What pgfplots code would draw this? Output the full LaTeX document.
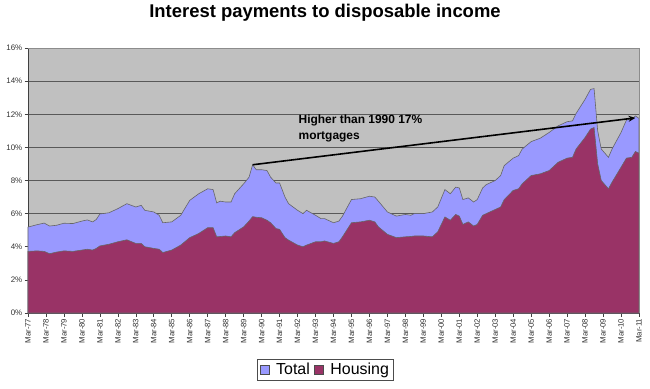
\documentclass[border=0pt]{standalone}
\usepackage{fontspec}
\setmainfont{Liberation Sans}
\usepackage{pgfplots}
\pgfplotsset{compat=1.18}
\usetikzlibrary{arrows.meta}
\definecolor{totalc}{HTML}{9999FF}
\definecolor{housec}{HTML}{993366}
\definecolor{bgc}{HTML}{C0C0C0}
\begin{document}
\begin{tikzpicture}
\begin{axis}[
  width=611bp, height=265bp, scale only axis,
  xmin=1977, xmax=2011, ymin=0, ymax=16,
  axis background/.style={fill=bgc},
  axis lines*=left,
  axis line style={black!75, line width=0.8pt},
  xtick={1977,...,2011},
  xticklabels={Mar-77,Mar-78,Mar-79,Mar-80,Mar-81,Mar-82,Mar-83,Mar-84,Mar-85,Mar-86,Mar-87,Mar-88,Mar-89,Mar-90,Mar-91,Mar-92,Mar-93,Mar-94,Mar-95,Mar-96,Mar-97,Mar-98,Mar-99,Mar-00,Mar-01,Mar-02,Mar-03,Mar-04,Mar-05,Mar-06,Mar-07,Mar-08,Mar-09,Mar-10,Mar-11},
  xticklabel style={rotate=90, anchor=east, font=\fontsize{7.8}{8}\selectfont, text=black!80, inner sep=2bp},
  ytick={0,2,...,16},
  yticklabel={\pgfmathprintnumber{\tick}\%},
  yticklabel style={font=\fontsize{8}{9}\selectfont, text=black!80, inner sep=2bp},
  /pgf/number format/assume math mode=true,
  tick align=outside,
  major tick length=3.5bp,
  tick style={black!75, line width=0.6pt},
  ymajorgrids,
  grid style={black!65, line width=0.9pt},
  legend style={at={(0.4865,-0.214)}, anchor=center, legend columns=2, draw=black!70,
    font=\fontsize{16}{18}\selectfont, inner xsep=2bp, inner ysep=1.5bp,
    /tikz/every even column/.append style={column sep=2bp},
    /tikz/every odd column/.append style={column sep=5bp}},
  legend image code/.code={\draw[#1, draw=black!70, line width=0.6pt] (0bp,-4.5bp) rectangle (9bp,4.5bp);},
  clip=false,
]
\addplot[fill=totalc, draw=black!60, line width=0.6pt] table {
x y
1977.0 5.19
1977.5 5.33
1977.9 5.43
1978.2 5.25
1978.6 5.30
1979.0 5.42
1979.5 5.40
1980.0 5.55
1980.3 5.62
1980.6 5.50
1980.8 5.65
1981.0 5.98
1981.5 6.05
1982.0 6.30
1982.5 6.60
1983.0 6.40
1983.3 6.50
1983.5 6.20
1984.0 6.10
1984.3 5.90
1984.5 5.45
1985.0 5.50
1985.5 5.90
1986.0 6.80
1986.5 7.20
1987.0 7.50
1987.3 7.45
1987.5 6.65
1987.7 6.75
1988.0 6.70
1988.3 6.70
1988.5 7.20
1989.0 7.80
1989.3 8.20
1989.5 8.95
1989.7 8.65
1990.0 8.65
1990.3 8.60
1990.5 8.20
1990.8 7.85
1991.0 7.85
1991.3 7.00
1991.5 6.60
1992.0 6.20
1992.3 6.00
1992.5 6.20
1993.0 5.90
1993.3 5.70
1993.5 5.70
1994.0 5.45
1994.3 5.55
1994.5 5.85
1995.0 6.85
1995.5 6.90
1996.0 7.05
1996.3 7.00
1996.5 6.75
1997.0 6.10
1997.5 5.85
1998.0 5.95
1998.3 5.90
1998.5 6.00
1999.0 6.00
1999.5 6.10
1999.8 6.40
2000.2 7.45
2000.5 7.20
2000.8 7.60
2001.0 7.55
2001.2 6.85
2001.5 6.95
2001.8 6.70
2002.0 6.85
2002.3 7.55
2002.5 7.75
2003.0 8.00
2003.3 8.30
2003.5 8.90
2004.0 9.35
2004.3 9.50
2004.5 9.90
2005.0 10.35
2005.5 10.55
2006.0 10.90
2006.5 11.30
2007.0 11.55
2007.3 11.60
2007.5 12.05
2008.0 12.90
2008.3 13.50
2008.5 13.55
2008.7 11.00
2008.9 9.90
2009.3 9.40
2009.5 9.90
2010.0 10.90
2010.3 11.65
2010.6 11.70
2010.8 11.90
2011.0 11.75
} \closedcycle;
\addlegendentry{Total}
\addplot[fill=housec, draw=black!60, line width=0.6pt] table {
x y
1977.0 3.72
1977.5 3.75
1977.9 3.72
1978.2 3.58
1978.6 3.68
1979.0 3.75
1979.5 3.72
1980.0 3.80
1980.3 3.85
1980.6 3.80
1980.8 3.90
1981.0 4.05
1981.5 4.15
1982.0 4.30
1982.5 4.42
1983.0 4.20
1983.3 4.20
1983.5 4.00
1984.0 3.90
1984.3 3.85
1984.5 3.65
1985.0 3.80
1985.5 4.10
1986.0 4.55
1986.5 4.80
1987.0 5.15
1987.3 5.15
1987.5 4.60
1987.7 4.62
1988.0 4.65
1988.3 4.60
1988.5 4.85
1989.0 5.20
1989.3 5.55
1989.5 5.82
1989.7 5.78
1990.0 5.75
1990.3 5.60
1990.5 5.45
1990.8 5.10
1991.0 5.05
1991.3 4.55
1991.5 4.40
1992.0 4.10
1992.3 4.00
1992.5 4.10
1993.0 4.30
1993.3 4.30
1993.5 4.35
1994.0 4.20
1994.3 4.30
1994.5 4.60
1995.0 5.45
1995.5 5.50
1996.0 5.60
1996.3 5.50
1996.5 5.20
1997.0 4.75
1997.5 4.55
1998.0 4.60
1998.3 4.62
1998.5 4.65
1999.0 4.65
1999.5 4.60
1999.8 4.90
2000.2 5.80
2000.5 5.60
2000.8 5.95
2001.0 5.85
2001.2 5.35
2001.5 5.50
2001.8 5.25
2002.0 5.35
2002.3 5.90
2002.5 6.00
2003.0 6.25
2003.3 6.40
2003.5 6.85
2004.0 7.40
2004.3 7.50
2004.5 7.80
2005.0 8.30
2005.5 8.40
2006.0 8.60
2006.5 9.10
2007.0 9.35
2007.3 9.40
2007.5 9.90
2008.0 10.60
2008.3 11.10
2008.5 11.20
2008.7 9.00
2008.9 8.00
2009.3 7.50
2009.5 7.90
2010.0 8.80
2010.3 9.35
2010.6 9.40
2010.8 9.75
2011.0 9.65
} \closedcycle;
\addlegendentry{Housing}
\draw[black!45, line width=0.8pt] (rel axis cs:0,1) -- (rel axis cs:1,1) -- (rel axis cs:1,0);
\draw[black, line width=1.6pt, -{Stealth[length=7bp, width=6bp]}] (axis cs:1989.5,8.95) -- (axis cs:2010.8,11.78);
\node[anchor=north west, align=left, inner sep=0pt, font=\bfseries\fontsize{12}{15.6}\selectfont] at (axis cs:1992.05,11.95) {Higher than 1990 17\%\\mortgages};
\end{axis}
\node[font=\bfseries\fontsize{18.5}{22}\selectfont] at ([shift={(297bp,35bp)}]current axis.north west) {Interest payments to disposable income};
\pgfresetboundingbox
\path[use as bounding box] ([shift={(-28bp,-76bp)}]current axis.south west) rectangle ([shift={(11bp,48bp)}]current axis.north east);
\end{tikzpicture}
\end{document}
